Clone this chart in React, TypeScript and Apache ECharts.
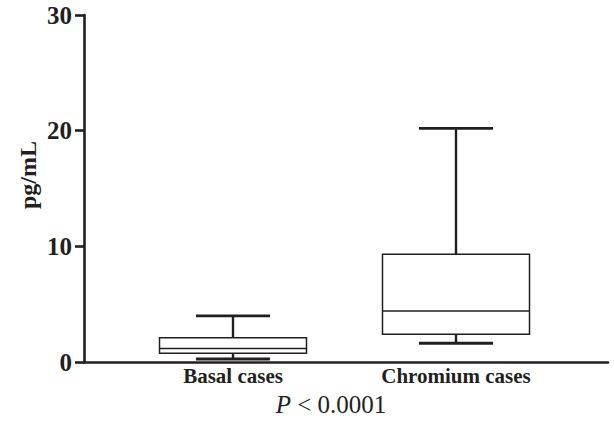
import React, { useEffect, useRef } from "react";
import * as echarts from "echarts";

const categories = ["Basal cases", "Chromium cases"];
const whiskerMin = [0.26, 1.62];
const q1 = [0.75, 2.39];
const median = [1.17, 4.41];
const q3 = [2.1, 9.31];
const whiskerMax = [3.98, 20.2];
const yTicks = { min: 0, max: 30, interval: 10 };
const yName = "pg/mL";
const pText = "< 0.0001";

const FONT = '"Liberation Serif", "DejaVu Serif", serif';
const INK = "#231f20";

export default function App() {
  const ref = useRef<HTMLDivElement>(null);
  useEffect(() => {
    if (!ref.current) return;
    const chart = echarts.init(ref.current, undefined, { renderer: "svg" });
    const data = categories.map((_, i) => [i, whiskerMin[i], q1[i], median[i], q3[i], whiskerMax[i]]);
    const BOX_W = 147;
    const CAP_W = 74;
    const renderItem = (params: any, api: any) => {
      const x = api.value(0);
      const pMin = api.coord([x, api.value(1)]);
      const pQ1 = api.coord([x, api.value(2)]);
      const pMed = api.coord([x, api.value(3)]);
      const pQ3 = api.coord([x, api.value(4)]);
      const pMax = api.coord([x, api.value(5)]);
      const cx = pMed[0];
      return {
        type: "group",
        children: [
          { type: "line", shape: { x1: cx, y1: pQ3[1], x2: cx, y2: pMax[1] }, style: { stroke: INK, lineWidth: 2.4 } },
          { type: "line", shape: { x1: cx, y1: pQ1[1], x2: cx, y2: pMin[1] }, style: { stroke: INK, lineWidth: 2.4 } },
          { type: "line", shape: { x1: cx - CAP_W / 2, y1: pMax[1], x2: cx + CAP_W / 2, y2: pMax[1] }, style: { stroke: INK, lineWidth: 2.8 } },
          { type: "line", shape: { x1: cx - CAP_W / 2, y1: pMin[1], x2: cx + CAP_W / 2, y2: pMin[1] }, style: { stroke: INK, lineWidth: 2.8 } },
          { type: "rect", shape: { x: cx - BOX_W / 2, y: pQ3[1], width: BOX_W, height: pQ1[1] - pQ3[1] }, style: { fill: "#fff", stroke: INK, lineWidth: 1.5 } },
          { type: "line", shape: { x1: cx - BOX_W / 2, y1: pMed[1], x2: cx + BOX_W / 2, y2: pMed[1] }, style: { stroke: INK, lineWidth: 1.5 } },
        ],
      };
    };
    chart.setOption({
      animation: false,
      backgroundColor: "#fff",
      grid: [
        { left: 84, right: 6, top: 15, bottom: 59 },
        { left: 121.5, right: 46.5, top: 15, bottom: 59 },
      ],
      xAxis: [
        {
          type: "value", gridIndex: 0, min: 0, max: 1,
          axisLine: { show: true, lineStyle: { color: INK, width: 2.6 } },
          axisTick: { show: false }, axisLabel: { show: false }, splitLine: { show: false },
        },
        {
          type: "category", gridIndex: 1, data: categories,
          axisLine: { show: false }, axisTick: { show: false }, splitLine: { show: false },
          axisLabel: { color: INK, fontFamily: FONT, fontWeight: "bold", fontSize: 21, margin: 3 },
        },
      ],
      yAxis: [
        {
          type: "value", gridIndex: 0, min: yTicks.min, max: yTicks.max, interval: yTicks.interval,
          axisLine: { show: true, lineStyle: { color: INK, width: 2.6 } },
          axisTick: { show: true, length: 9, lineStyle: { color: INK, width: 2.6 } },
          axisLabel: { color: INK, fontFamily: FONT, fontWeight: "bold", fontSize: 25, margin: 12 },
          splitLine: { show: false },
        },
        {
          type: "value", gridIndex: 1, min: yTicks.min, max: yTicks.max, interval: yTicks.interval,
          show: false, splitLine: { show: false },
        },
      ],
      series: [
        {
          type: "custom", xAxisIndex: 1, yAxisIndex: 1, data,
          encode: { x: 0, y: [1, 2, 3, 4, 5] },
          renderItem,
        },
      ],
      graphic: [
        {
          type: "text", x: 28, y: 175, rotation: Math.PI / 2,
          style: {
            text: yName, fill: INK, fontFamily: FONT, fontWeight: "bold", fontSize: 24,
            align: "center", verticalAlign: "middle", textAlign: "center", textVerticalAlign: "middle",
          },
        },
        {
          type: "text", x: 331, y: 404,
          style: {
            text: "{i|P} " + pText, fill: INK, fontFamily: FONT, fontSize: 25,
            rich: { i: { fontStyle: "italic", fontFamily: FONT, fontSize: 25, fill: INK } },
            align: "center", verticalAlign: "middle", textAlign: "center", textVerticalAlign: "middle",
          },
        },
      ],
    });
    return () => chart.dispose();
  }, []);
  return <div ref={ref} style={{ position: "fixed", left: 0, top: 0, width: 614, height: 421 }} />;
}
